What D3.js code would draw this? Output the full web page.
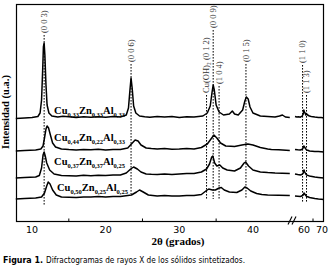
<!DOCTYPE html>
<html>
<head>
<meta charset="utf-8">
<script src="https://cdn.jsdelivr.net/npm/d3@7"></script>
<style>
  body { margin: 0; background: #fff; }
  svg { display: block; }
</style>
</head>
<body>
<div id="chart"></div>
<script>
// patterns, 2theta (deg) vs intensity (a.u., stacked as in the figure)
var cu33 = [[7.8,102.5],[9,103],[10,103.5],[10.8,104.5],[11.1,108],[11.3,121],[11.45,151],[11.55,174],[11.65,178],[11.75,166],[11.9,136],[12.05,116],[12.3,108],[12.7,105],[13.5,104],[14.2,104.8],[15,104.2],[16,103.6],[17,104.3],[18,103.7],[19,104.2],[20,103.8],[21,104.5],[22,104],[22.8,106],[23.1,113],[23.3,131],[23.45,143],[23.6,133],[23.8,115],[24.1,108],[24.6,105],[25.3,104.3],[26,103.8],[27,104.6],[28,104],[29,104.4],[30,103.6],[31,104.2],[32,104],[33.2,105],[33.8,108],[34.2,115],[34.45,129],[34.6,136],[34.75,131],[35,116],[35.4,109],[36,106],[36.8,107],[37.2,110],[37.5,107],[38,106],[38.6,111],[38.9,120],[39.1,124],[39.35,122],[39.6,114],[40,108],[41,105],[42,104.5],[43,104],[43.6,105],[44,106],[44.4,104],[45,103.5],
  [55,104.5],[56,104],[57,104.3],[58,103.8],[59,105],[59.6,107],[59.9,111],[60.2,109],[60.6,108],[61,106],[61.3,107.5],[62,106],[63,105],[64,104.5],[65,104.2],[66,103.9],[68,103.6],[69.5,103.4],[71,103]];

var cu44 = [[7.8,70],[9,70.5],[10.5,71],[11.2,72],[11.5,75],[11.7,83],[11.9,92],[12.05,95],[12.25,93],[12.5,86],[12.8,78],[13.2,74],[14,72],[15,71.4],[16,71],[17,71.6],[18,71.2],[19,71.7],[20,71],[21,71.6],[22,71.5],[23,73],[23.5,77],[24,81],[24.4,80],[24.8,76],[25.5,73],[26.2,72.4],[27,72],[28,72.5],[29,71.8],[30,72],[31,72.4],[32,72],[33,73.5],[33.8,77],[34.3,82],[34.7,86],[35.1,83],[35.6,78],[36.3,75],[37,74.8],[37.5,74.5],[38.5,76],[39.3,77],[40,76],[41,73.5],[42,72],[42.5,71.5],[43.5,71.2],[45,70.5],
  [55,71.5],[56.5,71.2],[58,71],[59,71.8],[59.5,73],[59.9,75],[60.3,74],[61,72],[61.5,71],[62.5,70.5],[63,70],[64.5,69.8],[66,69.5],[68,69.4],[71,69]];

var cu37 = [[7.8,43],[9,43.5],[10.5,44],[11,45.5],[11.3,53],[11.5,66],[11.65,69],[11.8,65],[12,58],[12.4,51],[13,47],[14,45.5],[15,45.2],[16,45],[17,45.7],[18,45.3],[19,45.8],[20,45.5],[21,46.1],[22,46],[22.8,48],[23.4,52],[23.8,54],[24.3,52],[24.8,49],[25.5,47],[26.2,46.7],[27,46.5],[28,47.1],[29,46.6],[30,47],[31,47.4],[32,47.5],[33,49],[33.7,52],[34.1,57],[34.4,64],[34.55,65],[34.8,58],[35.1,55],[35.5,56],[35.9,53],[36.5,51],[37.5,50],[38.3,53],[38.8,58],[39,59],[39.4,55],[40,51],[41,49],[42,48.4],[43,48],[44,47.8],[45,47.5],
  [55,47],[56.5,46.4],[58,46],[59,46.8],[59.6,48],[60,51],[60.4,49],[61,47],[61.5,46],[62.5,45.4],[63,45],[64.5,44.6],[66,44],[68,43.6],[71,43]];

var cu50 = [[7.8,22],[9,22.5],[10.5,23],[11.3,24],[11.7,28],[12,35],[12.2,39],[12.45,37],[12.8,31],[13.3,26],[14,24],[15,23.7],[16,23.5],[17,24.1],[18,24],[19,24.4],[20,24],[21,24.6],[22,24.5],[23.5,26],[24.2,29],[24.6,31],[25.1,29],[25.8,26],[27,25],[28,25.4],[29,24.9],[30,25],[31,25.6],[32,25.5],[33,26.5],[33.6,30],[34,32],[34.5,31],[34.9,31],[35.4,33],[35.7,33.5],[36.1,31],[36.8,29],[37.8,28.5],[38.5,31],[38.9,34],[39.2,33],[39.7,30],[40.5,27.5],[41.2,26.4],[42,26],[43.5,25.8],[45,25.5],
  [55,25],[56.5,24.8],[58,24.5],[59,25.2],[59.6,26],[60,28],[60.4,27],[61,25.5],[61.5,24.5],[62.5,24],[63,23.5],[64.5,23],[66,22.5],[68,22],[71,21.5]];

var seriesData = [cu33, cu44, cu37, cu50];
var seriesCu = ["0,33", "0,44", "0,37", "0,50"];
var seriesZn = ["0,33", "0,22", "0,37", "0,25"];
var seriesAl = ["0,33", "0,33", "0,25", "0,25"];
// intensity level where each sample label sits
var labelLevel = [107, 80, 56, 30];
var labelAt = [13.0, 13.0, 13.0, 13.4];

// reflections: name, position (2theta), top and bottom of the marker line (intensity)
var reflNames = ["(0 0 3)", "(0 0 6)", "(0 0 9)", "Cu(OH)\u2082 (0 1 2)", "(1 0 4)", "(0 1 5)", "(1 1 0)", "(1 1 3)"];
var reflPos = [11.65, 23.45, 34.6, 33.7, 35.4, 39.05, 59.2, 61.4];
var reflTop = [186, 157, 191, 126, 135, 157, 156, 126];
var reflBottom = [16, 27, 22, 22, 22, 23, 19, 19];

var ticksLow = [10, 20, 30, 40];
var ticksHigh = [60, 70];
var minorLow = [15, 25, 35];
var minorHigh = [65];

var width = 331, height = 272;
var margin = {top: 4, right: 7, bottom: 51, left: 16};
var breakX = 292;

var svg = d3.select("#chart").append("svg")
    .attr("width", width)
    .attr("height", height);

var xLow = d3.scaleLinear().domain([7.83, 45.3]).range([margin.left, breakX]);
var xHigh = d3.scaleLinear().domain([55, 71.1]).range([295, width - margin.right]);
var y = d3.scaleLinear().domain([0, 217]).range([height - margin.bottom, margin.top]);

function xPos(t) { return t < 50 ? xLow(t) : xHigh(t); }

var serif = "'Liberation Serif', 'Times New Roman', serif";

// reflection marker lines
reflPos.forEach(function(p, i) {
    svg.append("line")
        .attr("x1", xPos(p)).attr("x2", xPos(p))
        .attr("y1", y(reflTop[i])).attr("y2", y(reflBottom[i]))
        .attr("stroke", "#000")
        .attr("stroke-width", 1)
        .attr("stroke-dasharray", "1.6,1.4");
    svg.append("text")
        .attr("transform", "translate(" + xPos(p) + "," + (y(reflTop[i]) - 2) + ") rotate(-90)")
        .attr("dy", "0.33em")
        .style("font-family", serif)
        .style("font-size", "8.5px")
        .style("fill", "#333")
        .text(reflNames[i]);
});

// patterns, each split around the axis break
var line = d3.line()
    .x(d => xPos(d[0]))
    .y(d => y(d[1]));

seriesData.forEach(function(s) {
    [s.filter(d => d[0] < 50), s.filter(d => d[0] > 50)].forEach(function(seg) {
        svg.append("path")
            .attr("d", line(seg))
            .attr("fill", "none")
            .attr("stroke", "#000")
            .attr("stroke-width", 1.5)
            .attr("stroke-linejoin", "round");
    });
});

// sample labels
seriesData.forEach(function(s, i) {
    var t = svg.append("text")
        .attr("x", xLow(labelAt[i]))
        .attr("y", y(labelLevel[i]))
        .style("font-family", serif)
        .style("font-weight", "bold")
        .style("font-size", "10.5px")
        .style("fill", "#000");
    [["Cu", seriesCu[i]], ["Zn", seriesZn[i]], ["Al", seriesAl[i]]].forEach(function(p, k) {
        t.append("tspan").attr("dy", k === 0 ? 0 : -3).text(p[0]);
        t.append("tspan").attr("dy", 3).style("font-size", "6.5px").text(p[1]);
    });
});

// frame
svg.append("rect")
    .attr("x", margin.left + 0.5)
    .attr("y", margin.top + 0.5)
    .attr("width", width - margin.right - margin.left - 1)
    .attr("height", height - margin.bottom - margin.top)
    .attr("fill", "none")
    .attr("stroke", "#000")
    .attr("stroke-width", 1.2);

var axisY = height - margin.bottom + 0.5;

// inward minor ticks
minorLow.map(xLow).concat(minorHigh.map(xHigh)).forEach(function(px) {
    svg.append("line")
        .attr("x1", px).attr("x2", px)
        .attr("y1", axisY).attr("y2", axisY - 3)
        .attr("stroke", "#000");
});

// tick labels
var tickG = svg.append("g")
    .style("font-family", "'DejaVu Sans', Verdana, sans-serif")
    .style("font-size", "9.5px")
    .attr("text-anchor", "middle");
ticksLow.forEach(function(t) {
    tickG.append("text").attr("x", xLow(t)).attr("y", axisY + 11).text(t);
});
ticksHigh.forEach(function(t) {
    tickG.append("text").attr("x", xHigh(t)).attr("y", axisY + 11).text(t);
});

// axis break marks
[0, 4].forEach(function(o) {
    svg.append("line")
        .attr("x1", breakX - 4 + o).attr("y1", axisY + 3)
        .attr("x2", breakX + o).attr("y2", axisY - 5)
        .attr("stroke", "#000")
        .attr("stroke-width", 1.1);
});

// axis titles
svg.append("text")
    .attr("x", 178)
    .attr("y", 245)
    .attr("text-anchor", "middle")
    .style("font-family", serif)
    .style("font-weight", "bold")
    .style("font-size", "11px")
    .text("2\u03b8 (grados)");

svg.append("text")
    .attr("transform", "translate(9," + 112 + ") rotate(-90)")
    .attr("text-anchor", "middle")
    .style("font-family", serif)
    .style("font-weight", "bold")
    .style("font-size", "10.5px")
    .text("Intensidad (u.a.)");

// caption, squeezed like the condensed face of the original
var capFont = "'Liberation Sans Narrow', 'DejaVu Sans Condensed', sans-serif";
svg.append("text")
    .attr("x", 3)
    .attr("y", 263)
    .style("font-family", capFont)
    .style("font-size", "9.5px")
    .style("font-weight", "bold")
    .attr("textLength", 40)
    .attr("lengthAdjust", "spacingAndGlyphs")
    .text("Figura 1.");
svg.append("text")
    .attr("x", 46)
    .attr("y", 263)
    .style("font-family", capFont)
    .style("font-size", "9.5px")
    .attr("textLength", 199)
    .attr("lengthAdjust", "spacingAndGlyphs")
    .text("Difractogramas de rayos X de los s\u00f3lidos sintetizados.");
</script>
</body>
</html>
